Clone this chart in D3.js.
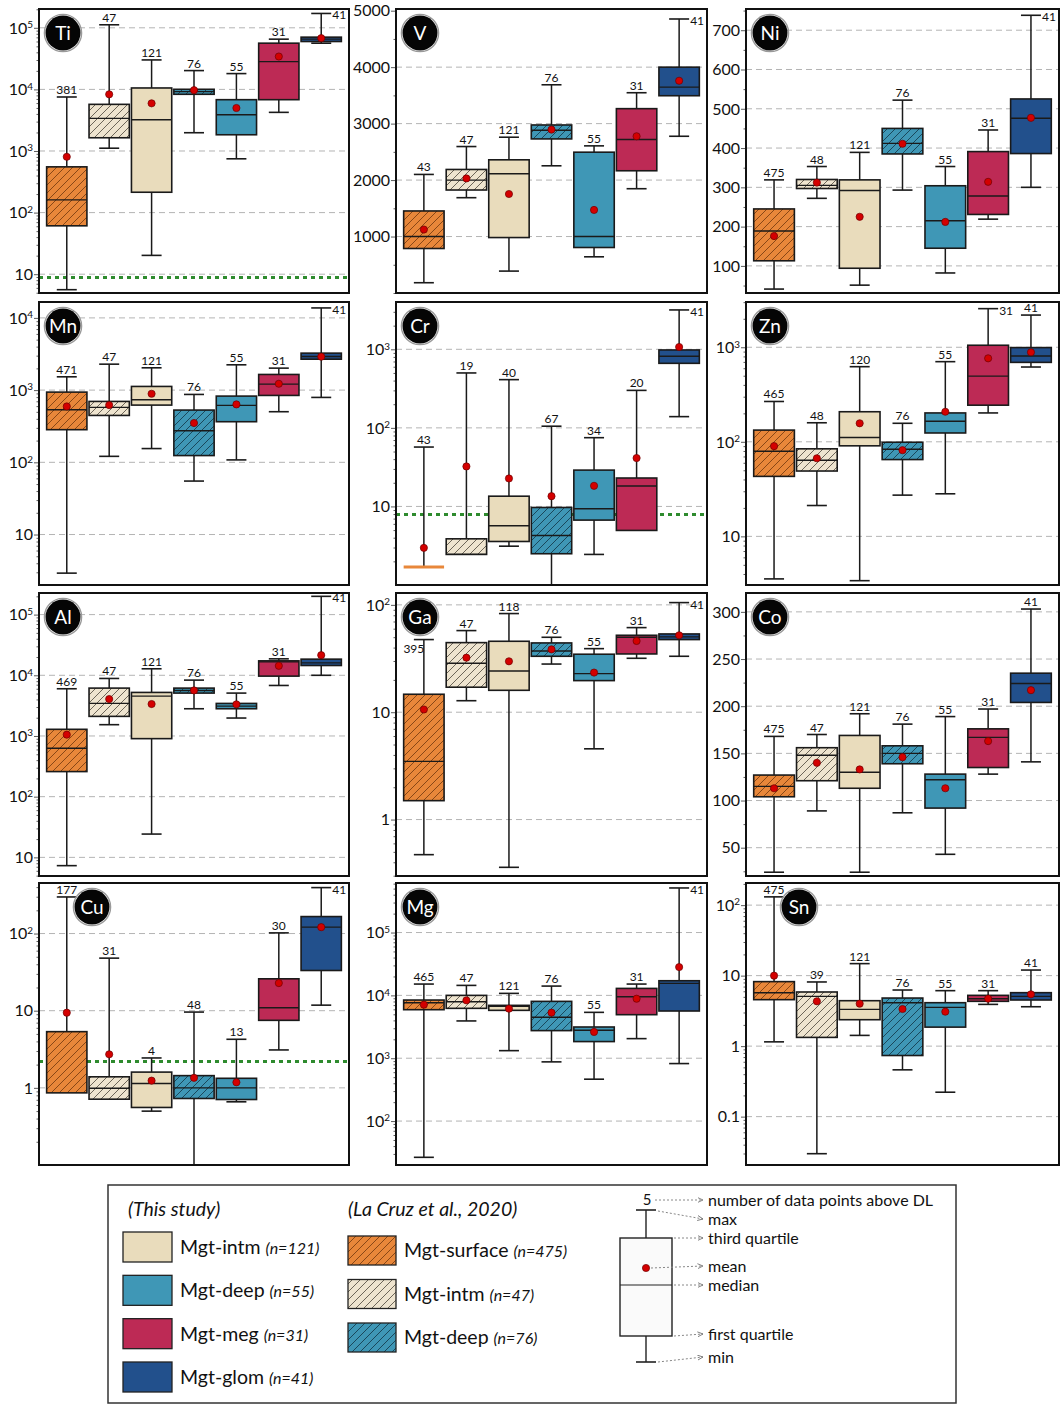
<!DOCTYPE html>
<html>
<head>
<meta charset="utf-8">
<script src="https://cdn.jsdelivr.net/npm/d3@7"></script>
<style>
  body { margin: 0; background: #fff; }
  svg { display: block; font-family: Lato, "Open Sans", sans-serif; }
</style>
</head>
<body>
<svg id="chart" width="1061" height="1410"></svg>
<script>
// Group order inside every panel
const groupKeys = ["lcSurface", "lcIntm", "intm", "lcDeep", "deep", "meg", "glom"];

// Each row: [min, q1, median, q3, max, mean, n above DL]
const statsTi = [
  [5.6, 61, 161, 553, 7530, 805, 381],
  [1110, 1640, 3390, 5720, 112000, 8320, 47],
  [20.2, 214, 3220, 10550, 30100, 5940, 121],
  [1980, 8330, 9200, 10040, 20200, 9720, 76],
  [747, 1835, 3880, 6810, 18060, 4990, 55],
  [4240, 6810, 28300, 56300, 65400, 34200, 31],
  [56300, 59900, 65400, 70500, 171000, 67900, 41]
];
const statsV = [
  [182, 788, 1000, 1453, 2100, 1124, 43],
  [1688, 1824, 2000, 2188, 2594, 2029, 47],
  [388, 982, 2112, 2359, 2759, 1753, 121],
  [2253, 2729, 2882, 2976, 3688, 2894, 76],
  [641, 806, 1000, 2494, 2606, 1471, 55],
  [1847, 2165, 2718, 3265, 3547, 2776, 31],
  [2776, 3494, 3647, 4000, 4853, 3759, 41]
];
const statsNi = [
  [41, 113, 189, 245, 319, 176, 475],
  [272, 297, 305, 320, 353, 312, 48],
  [51, 94, 292, 319, 389, 225, 121],
  [293, 385, 412, 450, 522, 411, 76],
  [82, 145, 215, 304, 353, 212, 55],
  [219, 231, 278, 391, 446, 314, 31],
  [300, 386, 476, 525, 738, 477, 41]
];
const statsMn = [
  [2.92, 283, 535, 938, 1528, 594, 471],
  [121, 446, 576, 697, 2287, 620, 47],
  [155, 620, 735, 1124, 2036, 890, 121],
  [55, 124, 274, 529, 871, 350, 76],
  [108, 365, 614, 826, 2240, 634, 55],
  [502, 844, 1210, 1647, 2015, 1224, 31],
  [792, 2680, 2920, 3250, 13740, 2900, 41]
];
const statsCr = [
  [1.7, 1.7, 1.7, 1.7, 57, 2.97, 43],
  [2.45, 2.45, 2.45, 3.87, 500, 32.3, 19],
  [3.12, 3.58, 5.67, 13.5, 411, 22.7, 40],
  [1.0, 2.5, 4.27, 9.7, 105, 13.5, 67],
  [2.45, 6.7, 9.34, 29, 75, 18.3, 34],
  [4.95, 4.95, 18.2, 23, 300, 41.3, 20],
  [139, 663, 815, 981, 3170, 1070, 41]
];
const statsZn = [
  [3.55, 43.1, 79.6, 133, 267, 90, 465],
  [21.2, 49.1, 63.8, 84.3, 159, 67, 48],
  [3.4, 90.7, 111, 208, 623, 157, 120],
  [27.3, 64.9, 83.5, 99, 157, 81.5, 76],
  [28.2, 124, 165, 202, 704, 208, 55],
  [202, 244, 495, 1050, 2560, 764, 31],
  [618, 692, 809, 992, 2190, 885, 41]
];
const statsAl = [
  [7.3, 259, 627, 1288, 6000, 1051, 469],
  [1535, 2105, 3440, 6150, 8870, 4060, 47],
  [24.2, 904, 4545, 5220, 12800, 3360, 121],
  [2810, 5090, 5630, 6150, 8330, 5630, 76],
  [1976, 2810, 3110, 3440, 5090, 3320, 55],
  [6800, 9690, 16670, 17300, 18670, 14320, 31],
  [10000, 14500, 16040, 18450, 200000, 21460, 41]
];
const statsGa = [
  [0.471, 1.50, 3.48, 14.7, 47.5, 10.6, 395],
  [12.8, 17.1, 28.6, 44.5, 57.6, 32.2, 47],
  [0.359, 16.0, 24.2, 45.8, 83, 29.8, 118],
  [28.1, 33.2, 37.2, 44.2, 49.9, 38.5, 76],
  [4.56, 19.7, 22.9, 34.7, 39.1, 23.4, 55],
  [31.8, 34.9, 49.9, 52.1, 61.4, 46.1, 31],
  [33.2, 47.5, 50.3, 53.6, 105, 52.1, 41]
];
const statsCo = [
  [24, 104, 115, 127, 168, 113, 475],
  [89, 121, 148, 156, 170, 140, 47],
  [24, 113, 130, 169, 192, 133, 121],
  [87, 139, 150, 158, 181, 146, 76],
  [43, 92, 122, 128, 189, 113, 55],
  [128, 135, 167, 176, 197, 163, 31],
  [141, 204, 224, 235, 303, 217, 41]
];
const statsCu = [
  [0.861, 0.861, null, 5.35, 298, 9.42, 177],
  [0.713, 0.713, 0.99, 1.39, 48, 2.72, 31],
  [0.499, 0.557, 1.14, 1.60, 2.44, 1.24, 4],
  [0.1, 0.728, 1.0, 1.44, 9.6, 1.35, 48],
  [0.659, 0.706, 1.0, 1.33, 4.26, 1.18, 13],
  [3.10, 7.5, 10.9, 25.9, 102, 22.8, 30],
  [11.8, 33.2, 121, 166, 394, 121, 41]
];
const statsMg = [
  [26.5, 5920, 7650, 8430, 15140, 7110, 465],
  [3920, 6220, 7930, 10000, 14420, 8330, 47],
  [1320, 5780, 6690, 6940, 10760, 6140, 121],
  [875, 2750, 4480, 8030, 14060, 5310, 76],
  [464, 1840, 2780, 3140, 5370, 2620, 55],
  [2050, 4930, 9530, 12910, 15140, 8850, 31],
  [822, 5640, 15500, 17100, 512000, 28180, 41]
];
const statsSn = [
  [1.15, 4.56, 5.73, 8.22, 131, 10, 475],
  [0.0298, 1.33, 5.08, 5.86, 8.13, 4.32, 39],
  [1.42, 2.37, 3.32, 4.41, 14.8, 4.0, 121],
  [0.461, 0.736, 4.13, 4.81, 6.25, 3.36, 76],
  [0.222, 1.86, 3.55, 4.13, 6.12, 3.08, 55],
  [3.91, 4.32, 4.71, 5.25, 6.12, 4.71, 31],
  [3.62, 4.51, 5.08, 5.73, 12.0, 5.43, 41]
];

// Axis ranges (ppm) and labelled ticks
const domainTi = [4.95, 202000], ticksTi = [10, 1e2, 1e3, 1e4, 1e5];
const domainV = [0, 5030], ticksV = [1000, 2000, 3000, 4000, 5000];
const domainNi = [31, 754], ticksNi = [100, 200, 300, 400, 500, 600, 700];
const domainMn = [2.0, 16600], ticksMn = [10, 1e2, 1e3, 1e4];
const domainCr = [1.0, 4000], ticksCr = [10, 1e2, 1e3];
const domainZn = [3.06, 3010], ticksZn = [10, 1e2, 1e3];
const domainAl = [4.93, 227000], ticksAl = [10, 1e2, 1e3, 1e4, 1e5];
const domainGa = [0.298, 129], ticksGa = [1, 10, 1e2];
const domainCo = [20, 320], ticksCo = [50, 100, 150, 200, 250, 300];
const domainCu = [0.1, 452], ticksCu = [1, 10, 1e2];
const domainMg = [20, 614000], ticksMg = [1e2, 1e3, 1e4, 1e5];
const domainSn = [0.0206, 206], ticksSn = [0.1, 1, 10, 1e2];

// Detection limits drawn as dotted green lines
const dlTi = 8.85, dlCr = 7.9, dlCu = 2.19;

const elements = ["Ti", "V", "Ni", "Mn", "Cr", "Zn", "Al", "Ga", "Co", "Cu", "Mg", "Sn"];

// Legend text
const studyNames = ["Mgt-intm", "Mgt-deep", "Mgt-meg", "Mgt-glom"];
const studyCounts = ["(n=121)", "(n=55)", "(n=31)", "(n=41)"];
const lcNames = ["Mgt-surface", "Mgt-intm", "Mgt-deep"];
const lcCounts = ["(n=475)", "(n=47)", "(n=76)"];
const keyNotes = ["number of data points above DL", "max", "third quartile", "mean", "median", "first quartile", "min"];

// ---------------------------------------------------------------
const panels = [
  { name: "Ti", stats: statsTi, domain: domainTi, ticks: ticksTi, log: true, dl: dlTi },
  { name: "V", stats: statsV, domain: domainV, ticks: ticksV, log: false },
  { name: "Ni", stats: statsNi, domain: domainNi, ticks: ticksNi, log: false },
  { name: "Mn", stats: statsMn, domain: domainMn, ticks: ticksMn, log: true },
  { name: "Cr", stats: statsCr, domain: domainCr, ticks: ticksCr, log: true, dl: dlCr },
  { name: "Zn", stats: statsZn, domain: domainZn, ticks: ticksZn, log: true },
  { name: "Al", stats: statsAl, domain: domainAl, ticks: ticksAl, log: true },
  { name: "Ga", stats: statsGa, domain: domainGa, ticks: ticksGa, log: true },
  { name: "Co", stats: statsCo, domain: domainCo, ticks: ticksCo, log: false },
  { name: "Cu", stats: statsCu, domain: domainCu, ticks: ticksCu, log: true, dl: dlCu },
  { name: "Mg", stats: statsMg, domain: domainMg, ticks: ticksMg, log: true },
  { name: "Sn", stats: statsSn, domain: domainSn, ticks: ticksSn, log: true }
];

const colSpan = [[39, 349], [396, 707], [746, 1059]];
const rowSpan = [[9, 293], [302, 585], [593, 876], [883, 1165]];

const fills = {
  lcSurface: "url(#hOrange)", lcIntm: "url(#hBeige)", intm: "#E9DCBC",
  lcDeep: "url(#hTeal)", deep: "#3F97B6", meg: "#BD2A55", glom: "#22508C"
};
const flatColor = { lcSurface: "#E8873A", lcIntm: "#E9DCBC", intm: "#E9DCBC", lcDeep: "#3F97B6", deep: "#3F97B6", meg: "#BD2A55", glom: "#22508C" };

const svg = d3.select("#chart");
const defs = svg.append("defs");

function hatch(id, base, line) {
  const p = defs.append("pattern").attr("id", id)
    .attr("patternUnits", "userSpaceOnUse").attr("width", 8).attr("height", 8);
  p.append("rect").attr("width", 8).attr("height", 8).attr("fill", base);
  p.append("path").attr("d", "M-2,2 L2,-2 M0,8 L8,0 M6,10 L10,6")
    .attr("stroke", line).attr("stroke-width", 0.9).attr("fill", "none");
}
hatch("hOrange", "#E8873A", "#7d3f12");
hatch("hBeige", "#EEE4CF", "#5d574b");
hatch("hTeal", "#3F97B6", "#163f50");

defs.append("marker").attr("id", "arr").attr("viewBox", "0 0 6 6")
  .attr("refX", 5.5).attr("refY", 3).attr("markerWidth", 6).attr("markerHeight", 6)
  .attr("orient", "auto")
  .append("path").attr("d", "M0,0.5 L5.5,3 L0,5.5").attr("fill", "none")
  .attr("stroke", "#777").attr("stroke-width", 0.9);

// Tick label, with superscript exponents on log axes
function writeTick(textSel, v, isLog) {
  if (!isLog || v <= 10) {
    textSel.text(isLog ? (v < 1 ? String(v) : String(Math.round(v))) : String(v));
  } else {
    const e = Math.round(Math.log10(v));
    textSel.append("tspan").text("10");
    textSel.append("tspan").attr("dy", "-0.55em").attr("font-size", "0.62em").text(e);
  }
}

function minorTicks(p) {
  const [lo, hi] = p.domain;
  const out = [];
  if (p.log) {
    for (let e = Math.floor(Math.log10(lo)); e <= Math.ceil(Math.log10(hi)); e++) {
      for (let k = 2; k <= 9; k++) {
        const v = k * Math.pow(10, e);
        if (v > lo && v < hi) out.push(v);
      }
    }
  } else {
    const step = (p.ticks[1] - p.ticks[0]) / 2;
    for (let v = Math.ceil(lo / step) * step; v < hi; v += step) {
      if (!p.ticks.includes(v)) out.push(v);
    }
  }
  return out;
}

panels.forEach((p, i) => {
  const [x0, x1] = colSpan[i % 3];
  const [y0, y1] = rowSpan[Math.floor(i / 3)];
  const y = (p.log ? d3.scaleLog() : d3.scaleLinear()).domain(p.domain).range([y1, y0]);
  const x = d3.scaleBand().domain(groupKeys).range([x0, x1]).paddingInner(0.05).paddingOuter(0.18);
  const bw = x.bandwidth();

  const g = svg.append("g").attr("class", "panel-" + p.name);
  const clipId = "clip-" + p.name;
  defs.append("clipPath").attr("id", clipId)
    .append("rect").attr("x", x0).attr("y", y0).attr("width", x1 - x0).attr("height", y1 - y0);

  // background grid
  g.append("g").selectAll("line")
    .data(p.ticks.filter(t => y(t) > y0 + 2 && y(t) < y1 - 2))
    .join("line")
    .attr("x1", x0).attr("x2", x1)
    .attr("y1", d => y(d)).attr("y2", d => y(d))
    .attr("stroke", "#b4b4b4").attr("stroke-width", 1).attr("stroke-dasharray", "6,4");

  // axis ticks
  const ax = g.append("g").attr("transform", `translate(${x0},0)`);
  ax.call(d3.axisLeft(y).tickValues(p.ticks).tickSize(5).tickFormat(""));
  const axm = g.append("g").attr("transform", `translate(${x0},0)`);
  axm.call(d3.axisLeft(y).tickValues(minorTicks(p)).tickSize(2.5).tickFormat(""));
  [ax, axm].forEach(a => {
    a.select(".domain").remove();
    a.selectAll("line").attr("stroke", "#333").attr("stroke-width", 0.8);
  });
  p.ticks.forEach(t => {
    const tx = g.append("text").attr("x", x0 - 6).attr("y", y(t)).attr("dy", "0.36em")
      .attr("text-anchor", "end").attr("font-size", 16).attr("fill", "#111");
    writeTick(tx, t, p.log);
  });

  const plot = g.append("g").attr("clip-path", `url(#${clipId})`);

  // detection limit
  if (p.dl !== undefined) {
    plot.append("line").attr("x1", x0).attr("x2", x1)
      .attr("y1", y(p.dl)).attr("y2", y(p.dl))
      .attr("stroke", "#2E8B2E").attr("stroke-width", 3).attr("stroke-dasharray", "4,4");
  }

  p.stats.forEach((s, k) => {
    const key = groupKeys[k];
    const [mn, q1, med, q3, mx, mean] = s;
    const cx = x(key) + bw / 2;
    const bg = plot.append("g");
    // whiskers
    if (mx > q3) {
      bg.append("line").attr("x1", cx).attr("x2", cx).attr("y1", y(q3)).attr("y2", y(mx))
        .attr("stroke", "#1a1a1a").attr("stroke-width", 1.5);
      bg.append("line").attr("x1", cx - 10).attr("x2", cx + 10).attr("y1", y(mx)).attr("y2", y(mx))
        .attr("stroke", "#1a1a1a").attr("stroke-width", 1.6);
    }
    if (mn < q1) {
      bg.append("line").attr("x1", cx).attr("x2", cx).attr("y1", y(q1)).attr("y2", y(mn))
        .attr("stroke", "#1a1a1a").attr("stroke-width", 1.5);
      bg.append("line").attr("x1", cx - 10).attr("x2", cx + 10).attr("y1", y(mn)).attr("y2", y(mn))
        .attr("stroke", "#1a1a1a").attr("stroke-width", 1.6);
    }
    if (q3 > q1) {
      bg.append("rect").attr("x", x(key)).attr("width", bw)
        .attr("y", y(q3)).attr("height", y(q1) - y(q3))
        .attr("fill", fills[key]).attr("stroke", "#1a1a1a").attr("stroke-width", 1.6);
      if (med !== null) {
        bg.append("line").attr("x1", x(key)).attr("x2", x(key) + bw)
          .attr("y1", y(med)).attr("y2", y(med))
          .attr("stroke", "#1a1a1a").attr("stroke-width", 1.4);
      }
    } else {
      // collapsed box: all quartiles at one value
      bg.append("line").attr("x1", x(key)).attr("x2", x(key) + bw)
        .attr("y1", y(q1)).attr("y2", y(q1))
        .attr("stroke", flatColor[key]).attr("stroke-width", 3);
    }
    bg.append("circle").attr("cx", cx).attr("cy", y(mean)).attr("r", 3.6)
      .attr("fill", "#D40000").attr("stroke", "#6e0000").attr("stroke-width", 0.7);
  });

  // frame
  g.append("rect").attr("x", x0).attr("y", y0).attr("width", x1 - x0).attr("height", y1 - y0)
    .attr("fill", "none").attr("stroke", "#111").attr("stroke-width", 2);

  // counts of points above detection limit
  p.stats.forEach((s, k) => {
    const key = groupKeys[k];
    const cx = x(key) + bw / 2;
    const cy = y(s[4]);
    const t = g.append("text").attr("font-size", 12).attr("fill", "#111").text(s[6]);
    if (p.name === "Ga" && k === 0) {
      t.attr("x", cx - 10).attr("y", cy + 13).attr("text-anchor", "middle");
    } else if (cy - y0 < 11) {
      t.attr("x", cx + 11).attr("y", cy + 6).attr("text-anchor", "start");
    } else {
      t.attr("x", cx).attr("y", cy - 3).attr("text-anchor", "middle");
    }
  });

  // element badge
  const bx = (p.name === "Cu" || p.name === "Sn") ? x0 + 53 : x0 + 24;
  const by = y0 + 24;
  g.append("circle").attr("cx", bx).attr("cy", by).attr("r", 18.6)
    .attr("fill", "none").attr("stroke", "#9a9a9a").attr("stroke-width", 1.4);
  g.append("circle").attr("cx", bx).attr("cy", by).attr("r", 17.5).attr("fill", "#050505");
  g.append("text").attr("x", bx).attr("y", by).attr("dy", "0.36em")
    .attr("text-anchor", "middle").attr("font-size", 19).attr("fill", "#fff").text(p.name);
});

// ---------------- legend ----------------
const lg = svg.append("g");
lg.append("rect").attr("x", 108).attr("y", 1185).attr("width", 848).attr("height", 218)
  .attr("fill", "#fff").attr("stroke", "#333").attr("stroke-width", 1.5);

lg.append("text").attr("x", 128).attr("y", 1216).attr("font-size", 19.5)
  .attr("font-style", "italic").attr("fill", "#111").text("(This study)");
lg.append("text").attr("x", 348).attr("y", 1216).attr("font-size", 19.5)
  .attr("font-style", "italic").attr("fill", "#111").text("(La Cruz et al., 2020)");

const studyKeys = ["intm", "deep", "meg", "glom"];
const studyRow = d3.scaleLinear().domain([0, 3]).range([1232, 1362]);
studyKeys.forEach((k, j) => {
  const yy = studyRow(j);
  lg.append("rect").attr("x", 123).attr("y", yy).attr("width", 49).attr("height", 30)
    .attr("fill", fills[k]).attr("stroke", "#222").attr("stroke-width", 1.3);
  const t = lg.append("text").attr("x", 180).attr("y", yy + 22).attr("fill", "#111");
  t.append("tspan").attr("font-size", 19.5).text(studyNames[j] + " ");
  t.append("tspan").attr("font-size", 16).attr("font-style", "italic").text(studyCounts[j]);
});

const lcKeys = ["lcSurface", "lcIntm", "lcDeep"];
const lcRow = d3.scaleLinear().domain([0, 2]).range([1236, 1323]);
lcKeys.forEach((k, j) => {
  const yy = lcRow(j);
  lg.append("rect").attr("x", 348).attr("y", yy).attr("width", 48).attr("height", 29)
    .attr("fill", fills[k]).attr("stroke", "#222").attr("stroke-width", 1.3);
  const t = lg.append("text").attr("x", 404).attr("y", yy + 21).attr("fill", "#111");
  t.append("tspan").attr("font-size", 19.5).text(lcNames[j] + " ");
  t.append("tspan").attr("font-size", 16).attr("font-style", "italic").text(lcCounts[j]);
});

// box-plot key
const kx = 646;
const key = lg.append("g");
key.append("line").attr("x1", kx).attr("x2", kx).attr("y1", 1210).attr("y2", 1362)
  .attr("stroke", "#222").attr("stroke-width", 1.4);
key.append("line").attr("x1", kx - 10).attr("x2", kx + 10).attr("y1", 1210).attr("y2", 1210)
  .attr("stroke", "#222").attr("stroke-width", 1.6);
key.append("line").attr("x1", kx - 10).attr("x2", kx + 10).attr("y1", 1362).attr("y2", 1362)
  .attr("stroke", "#222").attr("stroke-width", 1.6);
key.append("rect").attr("x", kx - 26).attr("y", 1238).attr("width", 52).attr("height", 98)
  .attr("fill", "#fafafa").attr("stroke", "#222").attr("stroke-width", 1.4);
key.append("line").attr("x1", kx - 26).attr("x2", kx + 26).attr("y1", 1285).attr("y2", 1285)
  .attr("stroke", "#222").attr("stroke-width", 1.2);
key.append("circle").attr("cx", kx).attr("cy", 1268).attr("r", 3.6)
  .attr("fill", "#D40000").attr("stroke", "#6e0000").attr("stroke-width", 0.7);
key.append("text").attr("x", kx + 1).attr("y", 1205).attr("text-anchor", "middle")
  .attr("font-size", 15).attr("fill", "#111").text("5");

const noteFrom = [[655, 1200], [658, 1211], [674, 1238], [651, 1268], [674, 1285], [674, 1336], [658, 1362]];
const noteTo = [1200, 1219, 1238, 1266, 1285, 1334, 1357];
keyNotes.forEach((n, j) => {
  key.append("line").attr("x1", noteFrom[j][0]).attr("y1", noteFrom[j][1])
    .attr("x2", 703).attr("y2", noteTo[j])
    .attr("stroke", "#888").attr("stroke-width", 1).attr("stroke-dasharray", "2,2")
    .attr("marker-end", "url(#arr)");
  key.append("text").attr("x", 708).attr("y", noteTo[j]).attr("dy", "0.35em")
    .attr("font-size", 16).attr("fill", "#111").text(n);
});
</script>
</body>
</html>
